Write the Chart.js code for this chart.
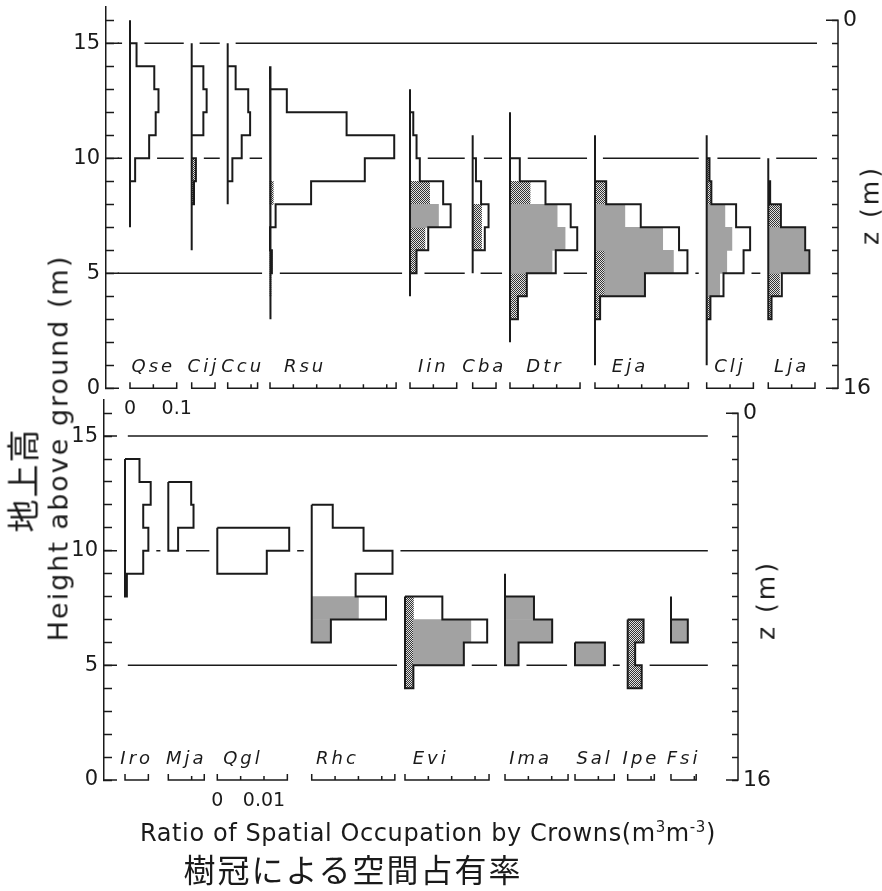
<!DOCTYPE html>
<html>
<head>
<meta charset="utf-8">
<script src="https://cdn.jsdelivr.net/npm/chart.js@4.4.0/dist/chart.umd.min.js"></script>
<style>
  html, body { margin: 0; padding: 0; background: #fff; }
  #wrap { position: relative; width: 882px; height: 891px; overflow: hidden; }
  #wrap canvas { position: absolute; left: 0; }
  #topPanel { top: -10px; }
  #botPanel { top: 385px; }
  .lbl { position: absolute; white-space: nowrap; transform: translate(-50%, -50%);
         color: #1a1a1a; font-family: 'DejaVu Sans', sans-serif; line-height: 1; }
  .rot { transform: translate(-50%, -50%) rotate(-90deg); }
  .lbl sup { font-size: 15px; vertical-align: 9px; line-height: 0; }
</style>
</head>
<body>
<div id="wrap">
  <canvas id="topPanel" width="882" height="440"></canvas>
  <canvas id="botPanel" width="882" height="506"></canvas>
  <div class="lbl rot" style="left:58px; top:448px; font-size:27px; letter-spacing:2px;">Height above ground (m)</div>
  <div class="lbl rot" style="left:22px; top:480px; font-family:'Noto Sans CJK JP'; font-size:33px; letter-spacing:2px;">地上高</div>
  <div class="lbl rot" style="left:870px; top:205px; font-size:25px; letter-spacing:3px;">z (m)</div>
  <div class="lbl rot" style="left:766px; top:600px; font-size:25px; letter-spacing:3px;">z (m)</div>
  <div class="lbl" style="left:428px; top:833px; font-size:24px; letter-spacing:0.6px;">Ratio of Spatial Occupation by Crowns(m<sup>3</sup>m<sup>-3</sup>)</div>
  <div class="lbl" style="left:353px; top:868px; font-family:'Noto Sans CJK JP'; font-size:32px; letter-spacing:2px;">樹冠による空間占有率</div>
</div>
<script>
// ---- upper panel: canopy species (ratio per 1 m layer, m3 m-3) ----
const topNames = ['Qse', 'Cij', 'Ccu', 'Rsu', 'Iin', 'Cba', 'Dtr', 'Eja', 'Clj', 'Lja'];
const topFrom = [9, 8, 9, 4, 5, 6, 3, 3, 3, 3];           // height of lowest layer (m)
const topStem = [[7, 16], [6, 15], [8, 15], [3, 14], [4, 13], [5, 11], [2, 12], [1, 11], [1, 11], [3, 10]];
const topTotal = [
  [0.011, 0.041, 0.055, 0.061, 0.052, 0.014],
  [0.005, 0.009, 0, 0.025, 0.032, 0.025],
  [0.010, 0.030, 0.048, 0.044, 0.017],
  [0.002, 0.004, 0, 0.012, 0.088, 0.203, 0.266, 0.164, 0.036],
  [0.014, 0.039, 0.087, 0.071, 0.021, 0.014, 0.007],
  [0.026, 0.034, 0.018, 0.007],
  [0.017, 0.036, 0.098, 0.144, 0.130, 0.076, 0.021],
  [0.011, 0.107, 0.198, 0.180, 0.098, 0.024],
  [0.008, 0.036, 0.079, 0.093, 0.063, 0.010, 0.006],
  [0.007, 0.029, 0.088, 0.079, 0.027, 0.004]
];
const topDark = [
  [],
  [0.005, 0.009, 0, 0, 0, 0],
  [],
  [0.002, 0.004, 0, 0, 0.007, 0, 0, 0, 0],
  [0.013, 0.032, 0, 0.042, 0, 0, 0],
  [0.019, 0.019, 0, 0],
  [0.017, 0.036, 0, 0, 0, 0.043, 0],
  [0.011, 0.021, 0.021, 0, 0, 0.024],
  [0.008, 0, 0, 0, 0, 0.010, 0.006],
  [0.007, 0.024, 0, 0, 0.024, 0]
];
const topGray = [
  [], [], [], [],
  [0, 0, 0.061, 0, 0, 0, 0],
  [],
  [0, 0, 0.090, 0.118, 0.101, 0, 0],
  [0, 0.086, 0.147, 0.145, 0.064, 0],
  [0, 0.028, 0.043, 0.054, 0.039, 0, 0],
  [0, 0, 0.086, 0.077, 0, 0]
];
const topSlots = [0.0514, 0.1835, 0.2606, 0.3512, 0.651, 0.7852, 0.8651, 1.0471, 1.2863, 1.4182];
const topAxisLen = [0.1, 0.05, 0.064, 0.27, 0.1, 0.05, 0.15, 0.2, 0.1, 0.1];
const topUnitTicks = [0, 0.1];

// ---- lower panel: understorey species ----
const botNames = ['Iro', 'Mja', 'Qgl', 'Rhc', 'Evi', 'Ima', 'Sal', 'Ipe', 'Fsi'];
const botFrom = [8, 10, 9, 6, 4, 5, 5, 4, 6];
const botStem = [[8, 14], [10, 13], [9, 11], [6, 12], [4, 8], [5, 9], [5, 6], [4, 7], [6, 8]];
const botTotal = [
  [0.0004, 0.0039, 0.0050, 0.0039, 0.0055, 0.0031],
  [0.0021, 0.0054, 0.0049],
  [0.0106, 0.0154],
  [0.0041, 0.0159, 0.0094, 0.0173, 0.0111, 0.0045],
  [0.0018, 0.0126, 0.0176, 0.0080],
  [0.0029, 0.0101, 0.0062],
  [0.0064],
  [0.0030, 0.0016, 0.0034],
  [0.0036]
];
const botDark = [[], [], [], [], [0.0018, 0.0018, 0.0018, 0.0018], [], [], [0.0030, 0.0016, 0.0034], []];
const botGray = [[], [], [], [0.0041, 0.0100, 0, 0, 0, 0], [0, 0.0108, 0.0123, 0], [0.0029, 0.0101, 0.0062], [0.0064], [], [0.0036]];
const botSlots = [0.0045, 0.01377, 0.02426, 0.04448, 0.06445, 0.08587, 0.10086, 0.11214, 0.12141];
const botAxisLen = [0.005, 0.0077, 0.015, 0.0178, 0.018, 0.0135, 0.0084, 0.0057, 0.0054];
const botUnitTicks = [0, 0.01];

const gridLevels = [5, 10, 15];

const INK = '#1a1a1a';
const GRAY = '#a2a2a2';
Chart.defaults.font.family = "'DejaVu Sans', sans-serif";

// fine checker used for the hatched crown parts
function checker() {
  const c = document.createElement('canvas');
  c.width = 2; c.height = 2;
  const g = c.getContext('2d');
  g.fillStyle = '#e2e2e2'; g.fillRect(0, 0, 2, 2);
  g.fillStyle = '#333'; g.fillRect(0, 0, 1, 1); g.fillRect(1, 1, 1, 1);
  return g.createPattern(c, 'repeat');
}
const HATCH = checker();

function layerAt(p, i, bottom) {
  const k = bottom - p.from[i];
  return (k >= 0 && k < p.total[i].length) ? p.total[i][k] : 0;
}

function buildDatasets(p) {
  const sets = [];
  // reference lines at 5, 10, 15 m, broken where a profile crosses them
  gridLevels.forEach(h => {
    const cuts = [];
    p.names.forEach((_, i) => {
      const [lo, hi] = p.stem[i];
      if (h < lo || h > hi) return;
      const w = Math.max(layerAt(p, i, h - 1), layerAt(p, i, h));
      cuts.push([p.slots[i] - p.gap, p.slots[i] + w + p.gap]);
    });
    cuts.sort((a, b) => a[0] - b[0]);
    const segs = [];
    let cur = p.gridFrom;
    cuts.forEach(([a, b]) => {
      if (a > cur) segs.push([cur, Math.min(a, p.gridTo)]);
      cur = Math.max(cur, b);
    });
    if (cur < p.gridTo) segs.push([cur, p.gridTo]);
    segs.filter(s => s[1] > s[0]).forEach(([a, b]) => sets.push({
      type: 'line', data: [{ x: a, y: h }, { x: b, y: h }],
      borderColor: INK, borderWidth: 1.5, pointRadius: 0, fill: false, order: 3
    }));
  });

  p.names.forEach((name, i) => {
    const b = p.slots[i], f = p.from[i], tot = p.total[i];
    const [lo, hi] = p.stem[i];
    // stem line, then the stepped outline of the profile
    const pts = [{ x: b, y: hi }, { x: b, y: lo }, { x: b, y: f }];
    tot.forEach((w, k) => pts.push({ x: b + w, y: f + k }, { x: b + w, y: f + k + 1 }));
    pts.push({ x: b, y: f + tot.length });
    sets.push({
      type: 'line', label: name, data: pts, borderColor: INK, borderWidth: 2,
      pointRadius: 0, fill: false, tension: 0, borderJoinStyle: 'miter', order: 0
    });

    const darkBars = [], grayBars = [];
    tot.forEach((_, k) => {
      const d = p.dark[i][k] || 0, g = p.gray[i][k] || 0;
      if (d > 0) darkBars.push({ y: f + k + 0.5, x: [b, b + d] });
      if (g > 0) grayBars.push({ y: f + k + 0.5, x: [b + d, b + d + g] });
    });
    const barOpts = {
      type: 'bar', indexAxis: 'y', grouped: false, barPercentage: 1, categoryPercentage: 1,
      borderWidth: 0, order: 1
    };
    if (grayBars.length) sets.push(Object.assign({ data: grayBars, backgroundColor: GRAY }, barOpts));
    if (darkBars.length) sets.push(Object.assign({ data: darkBars, backgroundColor: HATCH }, barOpts));
  });
  return sets;
}

// per-species scale bars, species names and the unit labels under one of them
function speciesAxes(p) {
  return {
    id: 'speciesAxes',
    afterDatasetsDraw(chart) {
      const { ctx, scales: { x, y } } = chart;
      const y0 = y.getPixelForValue(0);
      ctx.save();
      ctx.strokeStyle = INK;
      ctx.lineWidth = 1.5;
      p.names.forEach((name, i) => {
        const b = p.slots[i], len = p.axisLen[i];
        const x0 = x.getPixelForValue(b), x1 = x.getPixelForValue(b + len);
        ctx.beginPath();
        ctx.moveTo(x0, y0 - 6); ctx.lineTo(x0, y0); ctx.lineTo(x1, y0); ctx.lineTo(x1, y0 - 6);
        for (let k = 1; k * p.step < len - p.step * 0.05; k++) {
          const px = x.getPixelForValue(b + k * p.step);
          ctx.moveTo(px, y0); ctx.lineTo(px, y0 - 4);
        }
        ctx.stroke();
        ctx.fillStyle = INK;
        ctx.font = "oblique 18px 'DejaVu Sans'";
        ctx.letterSpacing = '3px';
        ctx.textAlign = 'center';
        ctx.textBaseline = 'middle';
        ctx.fillText(name, x.getPixelForValue(b + Math.min(len / 2, p.labelCap)), y.getPixelForValue(0.9));
      });
      ctx.letterSpacing = '0px';
      ctx.font = "19px 'DejaVu Sans'";
      ctx.textBaseline = 'middle';
      p.unitTicks.forEach(v => {
        ctx.fillText(String(v), x.getPixelForValue(p.slots[p.unitSpecies] + v), y0 + 21);
      });
      ctx.restore();
    }
  };
}

// longer marks at every 5 m on the height axis, and the depth axis line z = 0..16
const axisMarks = {
  id: 'axisMarks',
  afterDraw(chart) {
    const { y, z } = chart.scales, ctx = chart.ctx;
    ctx.save();
    ctx.strokeStyle = INK;
    ctx.lineWidth = 1.5;
    ctx.beginPath();
    [0, 5, 10, 15].forEach(v => {
      const py = y.getPixelForValue(v);
      ctx.moveTo(y.right, py); ctx.lineTo(y.right + 13, py);
    });
    const a = z.getPixelForValue(0), b = z.getPixelForValue(16);
    ctx.moveTo(z.left - 12, a); ctx.lineTo(z.left, a); ctx.lineTo(z.left, b); ctx.lineTo(z.left - 12, b);
    ctx.stroke();
    ctx.restore();
  }
};

// fixed axis widths; the layout padding alone places the plot area
function pinAxis(width) {
  return s => {
    s.width = width;
    s.paddingTop = 0;
    s.paddingBottom = 0;
  };
}

function makePanel(id, p) {
  new Chart(document.getElementById(id), {
    type: 'line',
    data: { datasets: buildDatasets(p) },
    options: {
      responsive: false,
      animation: false,
      events: [],
      layout: { padding: { top: p.padTop, bottom: p.padBottom, left: 0, right: 0 } },
      plugins: { legend: { display: false }, tooltip: { enabled: false } },
      scales: {
        x: { type: 'linear', min: 0, max: p.xMax, display: false, offset: false },
        y: {
          type: 'linear', position: 'left', min: 0, max: 16.6, offset: false,
          afterFit: pinAxis(p.leftPx),
          border: { color: INK, width: 1.5 },
          grid: { offset: false, drawOnChartArea: false, tickLength: -8, tickColor: INK, tickWidth: 1.5 },
          ticks: {
            stepSize: 1, includeBounds: false, autoSkip: false, padding: 14, color: INK,
            font: { size: 21 },
            callback: v => (v % 5 === 0 ? String(v) : '')
          }
        },
        z: {
          type: 'linear', position: 'right', reverse: true, min: -0.6, max: 16, offset: false,
          afterFit: pinAxis(882 - p.rightPx),
          border: { display: false },
          grid: { offset: false, drawOnChartArea: false, tickLength: -6, tickColor: INK, tickWidth: 1.5 },
          ticks: {
            stepSize: 1, includeBounds: false, autoSkip: false, padding: 11, color: INK,
            font: { size: 22 },
            callback: v => (v === 0 || v === 16 ? String(v) : '')
          }
        }
      }
    },
    plugins: [speciesAxes(p), axisMarks]
  });
}

makePanel('topPanel', {
  names: topNames, from: topFrom, stem: topStem, total: topTotal, dark: topDark, gray: topGray,
  slots: topSlots, axisLen: topAxisLen, unitTicks: topUnitTicks, unitSpecies: 0,
  step: 0.05, labelCap: 0.075, gap: 0.017, gridFrom: 0.025, gridTo: 1.5225,
  xMax: 1.5675, leftPx: 106, rightPx: 838, padTop: 16.5, padBottom: 41.7
});

makePanel('botPanel', {
  names: botNames, from: botFrom, stem: botStem, total: botTotal, dark: botDark, gray: botGray,
  slots: botSlots, axisLen: botAxisLen, unitTicks: botUnitTicks, unitSpecies: 2,
  step: 0.005, labelCap: 0.0055, gap: 0.0017, gridFrom: 0.0051, gridTo: 0.1293,
  xMax: 0.13576, leftPx: 104, rightPx: 738, padTop: 14.4, padBottom: 111
});
</script>
</body>
</html>
